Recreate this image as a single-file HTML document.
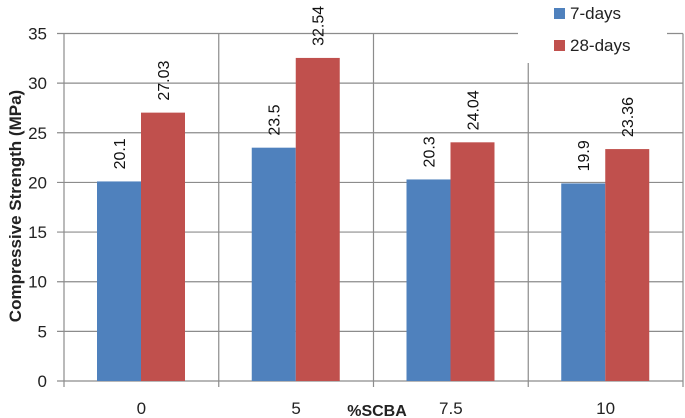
<!DOCTYPE html>
<html><head><meta charset="utf-8"><style>
body{margin:0;background:#fff;}
svg{display:block;font-family:"Liberation Sans",sans-serif;}
</style></head><body>
<svg id="chart" width="685" height="418"></svg>
<script>
const categories=["0","5","7.5","10"];
const days7=[20.1,23.5,20.3,19.9];
const days28=[27.03,32.54,24.04,23.36];
const yTicks=[0,5,10,15,20,25,30,35];
const NS="http://www.w3.org/2000/svg";
const svg=document.getElementById('chart');
const L=64,R=683,T=33.5,B=381,yMax=35;
const y=v=>B-(v/yMax)*(B-T);
const cw=(R-L)/categories.length;
const x=i=>L+i*cw;
function mk(t,a,p){const e=document.createElementNS(NS,t);for(const k in a)e.setAttribute(k,a[k]);(p||svg).appendChild(e);return e;}
yTicks.forEach(t=>{
  const g=mk('line',{x1:57,x2:R,y1:y(t),y2:y(t),stroke:'#8c8c8c','stroke-width':1.2});
  
  
  const tx=mk('text',{x:47,y:y(t)+6,'text-anchor':'end','font-size':17,fill:'#222'});
  tx.textContent=t;
  
  
});
for(let i=0;i<=categories.length;i++){
  const v=mk('line',{x1:x(i),x2:x(i),y1:T,y2:B+6,stroke:'#8c8c8c','stroke-width':1.2});
  
  
}
const bw=44,off=33;
categories.forEach((c,i)=>{
  [[days7,'#4f81bd'],[days28,'#c0504d']].forEach(([s,col],j)=>{
    const bx=x(i)+off+j*bw;
    const r=mk('rect',{x:bx,y:y(s[i]),width:bw,height:B-y(s[i]),fill:col});
    
    
    const cx=bx+bw/2+6, cy=y(s[i])-12;
    const t=mk('text',{x:cx,y:cy,transform:`rotate(-90 ${cx} ${cy})`,'font-size':16,fill:'#111'});
    t.textContent=s[i];
    
    
  });
  const lt=mk('text',{x:x(i)+cw/2,y:414,'text-anchor':'middle','font-size':17,fill:'#222'});
  lt.textContent=c;
  
  
});
const xt=mk('text',{x:377,y:416,'text-anchor':'middle','font-size':16,'font-weight':'bold',fill:'#222'});
xt.textContent='%SCBA';


const yt=mk('text',{x:0,y:0,transform:'translate(21 206) rotate(-90)','text-anchor':'middle','font-size':17,'font-weight':'bold',fill:'#222'});
yt.textContent='Compressive Strength (MPa)';


const lg=mk('g',{});


mk('rect',{x:518,y:0,width:149,height:63,fill:'#fff'},lg);
[['7-days','#4f81bd',8],['28-days','#c0504d',40]].forEach(([n,c,yy])=>{
  const e=mk('g',{},lg);
  
  
  mk('rect',{x:554,y:yy,width:11,height:11,fill:c},e);
  const t=mk('text',{x:570,y:yy+11,'font-size':17,fill:'#222'},e);
  t.textContent=n;
});
</script>
</body></html>
